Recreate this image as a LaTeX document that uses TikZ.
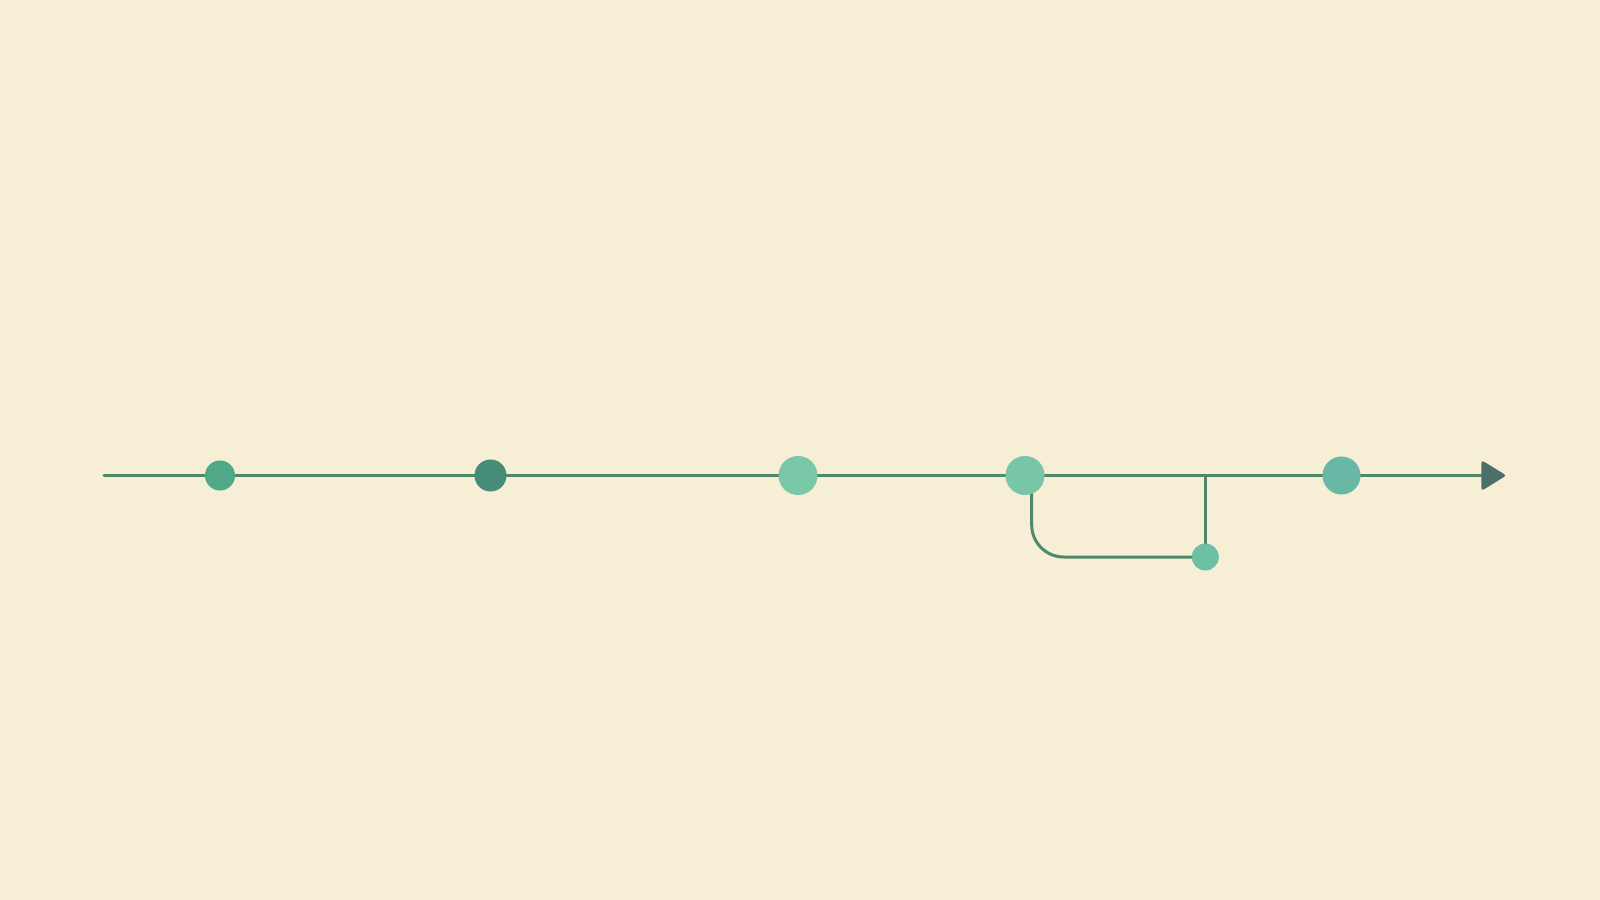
\documentclass[tikz,border=0pt]{standalone}
\usetikzlibrary{arrows.meta,backgrounds}
\definecolor{bgc}{HTML}{F6EED5}
\definecolor{linec}{HTML}{4E8A6A}
\definecolor{arrowc}{HTML}{4C6F69}
\definecolor{cA}{HTML}{4FA887}
\definecolor{cB}{HTML}{468C78}
\definecolor{cC}{HTML}{79C8A8}
\definecolor{cD}{HTML}{76C6A7}
\definecolor{cE}{HTML}{69B8A6}
\definecolor{cS}{HTML}{6DC0A4}
\tikzset{
  dot/.style={circle, inner sep=0pt, draw=none, fill=#1},
  conn/.style={draw=linec, line width=0.03cm, line cap=round},
}
\begin{document}
\begin{tikzpicture}[x=0.01cm,y=-0.01cm]
\begin{scope}[on background layer]
\fill[bgc] (0,0) rectangle (1600,900);
\end{scope}
\useasboundingbox (0,0) rectangle (1600,900);
% nodes
\node[dot=cA, minimum size=0.30cm] (n1) at (220,475.5) {};
\node[dot=cB, minimum size=0.32cm] (n2) at (490.5,475.5) {};
\node[dot=cC, minimum size=0.39cm] (n3) at (798,475.5) {};
\node[dot=cD, minimum size=0.39cm] (n4) at (1025,475.5) {};
\node[dot=cE, minimum size=0.38cm] (n5) at (1341.5,475.5) {};
\node[dot=cS, minimum size=0.27cm] (s) at (1205.3,557) {};
\coordinate (start) at (104,475.5);
\coordinate (tip) at (1505,475.5);
\coordinate (j) at (1205.3,475.5);
\coordinate (b) at (1031.7,475.5);
\begin{scope}[on background layer]
\draw[conn] (start) -- (n1.center) -- (n2.center) -- (n3.center) -- (n4.center) -- (n5.center);
\draw[conn, -{Triangle[length=0.25cm,width=0.30cm,round,fill=arrowc,color=arrowc]}] (n5.center) -- (tip);
\draw[conn] (j) -- (s.center);
\draw[conn, rounded corners=0.32cm] (b) |- (s.center);
\end{scope}
\end{tikzpicture}
\end{document}
